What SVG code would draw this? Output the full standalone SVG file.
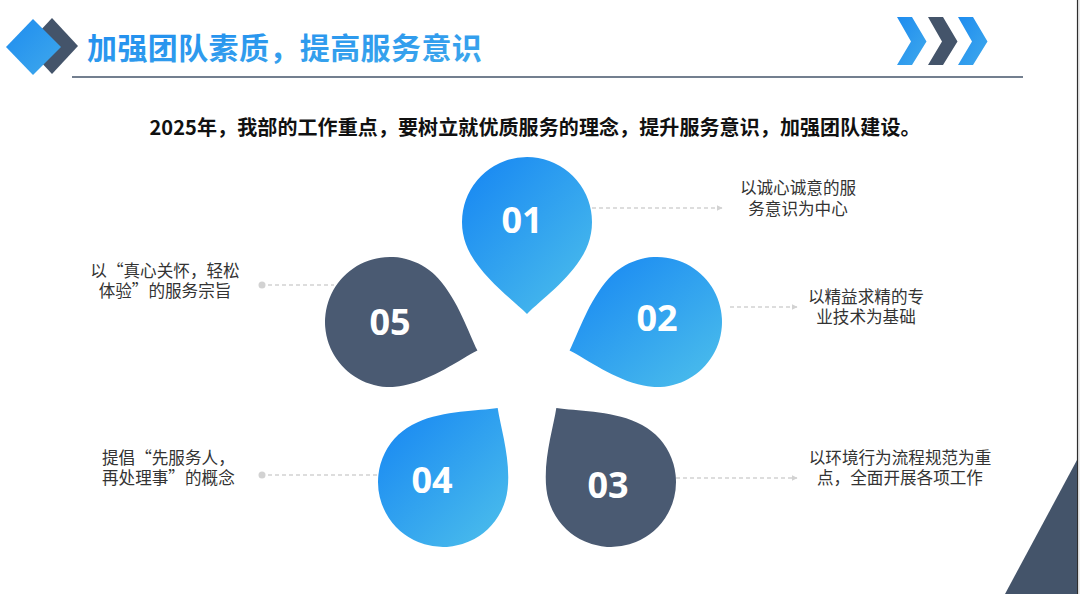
<svg xmlns="http://www.w3.org/2000/svg" width="1080" height="594" viewBox="0 0 1080 594">
<style>
.title{font-family:"Noto Sans CJK SC","Noto Sans",sans-serif;font-weight:700;font-size:30px;fill:url(#tg);letter-spacing:0.4px}
.sub{font-family:"Noto Sans CJK SC","Noto Sans",sans-serif;font-weight:700;font-size:20px;fill:#111;letter-spacing:0.1px}
.num{font-family:"Noto Sans","Open Sans",sans-serif;font-weight:700;font-size:36px;fill:#fff;text-anchor:middle}
.desc{font-family:"Noto Sans CJK SC","Noto Sans",sans-serif;font-size:16.6px;fill:#333}
.mid{text-anchor:middle}
.conn{stroke:#d2d2d2;stroke-width:1.5;stroke-dasharray:4 3;fill:none}
.dark{fill:#4a5a72}
.blue{fill:url(#bg)}
</style>
<defs>
<linearGradient id="tg" x1="0" y1="0" x2="1" y2="1">
<stop offset="0" stop-color="#1e8cef"/>
<stop offset="1" stop-color="#3fa9ec"/>
</linearGradient>
<linearGradient id="bg" x1="0.15" y1="0.1" x2="0.85" y2="0.85">
<stop offset="0" stop-color="#1c8cf2"/>
<stop offset="1" stop-color="#45b7ec"/>
</linearGradient>
<marker id="arr" viewBox="0 0 10 10" refX="9" refY="5" markerWidth="4" markerHeight="4" orient="auto">
<path d="M0,0 L10,5 L0,10 Z" fill="#d2d2d2"/>
</marker>
</defs>
<rect width="1080" height="594" fill="#fff"/>
<rect x="1078" y="0" width="2" height="594" fill="#ececec"/>
<line x1="1077.5" y1="0" x2="1077.5" y2="594" stroke="#2e2e2e" stroke-width="1.2"/>
<polygon points="1077,460 1077,594 1005,594" fill="#44546a"/>

<g id="header">
<polygon points="52,18 78,46 52,74 26,46" fill="#44546a"/>
<polygon points="33,19 61,47 33,75 6,47" fill="url(#tg)"/>
<text class="title" x="87" y="59">加强团队素质，提高服务意识</text>
<line x1="72" y1="77" x2="1023" y2="77" stroke="#44546a" stroke-width="1.5"/>
<polygon points="897,17 912,17 926.5,41.5 912,65 897,65 911,41.5" fill="url(#tg)"/>
<polygon points="928,17 943,17 957.5,41.5 943,65 928,65 942,41.5" fill="#44546a"/>
<polygon points="958,17 973,17 987.5,41.5 973,65 958,65 972,41.5" fill="url(#tg)"/>
</g>

<text class="sub mid" x="535" y="135">2025年，我部的工作重点，要树立就优质服务的理念，提升服务意识，加强团队建设。</text>

<g id="connectors">
<line class="conn" x1="592" y1="208" x2="722" y2="208" marker-end="url(#arr)"/>
<line class="conn" x1="730" y1="307" x2="797" y2="307" marker-end="url(#arr)"/>
<line class="conn" x1="676" y1="478" x2="797" y2="478" marker-end="url(#arr)"/>
<circle cx="262" cy="285" r="3.5" fill="#d2d2d2"/>
<line class="conn" x1="268" y1="285" x2="334" y2="285"/>
<circle cx="262" cy="475" r="3.5" fill="#d2d2d2"/>
<line class="conn" x1="268" y1="475" x2="378" y2="475"/>
</g>

<g id="node01">
<path class="blue" d="M583.29,254.5 C568.29,280.48 541.14,299.78 527,313.92 C512.86,299.78 485.71,280.48 470.71,254.5 A65,65 0 1 1 583.29,254.5 Z"/>
<text class="num" x="522" y="233">01</text>
<text class="desc mid" x="798" y="194">以诚心诚意的服<tspan x="798" dy="21">务意识为中心</tspan></text>
</g>
<g id="node02">
<path class="blue" d="M643.48,385.58 C614.14,379.34 587.4,359.49 569.58,350.41 C578.66,332.59 588.62,300.8 608.7,278.5 A65,65 0 1 1 643.48,385.58 Z"/>
<text class="num" x="657" y="331">02</text>
<text class="desc mid" x="866" y="303">以精益求精的专<tspan x="866" dy="20">业技术为基础</tspan></text>
</g>
<g id="node03">
<path class="dark" d="M546.42,489.35 C543.02,459.55 553.37,427.89 556.32,408.11 C576.11,411.07 609.4,410.43 636.92,422.39 A65,65 0 1 1 546.42,489.35 Z"/>
<text class="num" x="608" y="498">03</text>
<text class="desc mid" x="900" y="464">以环境行为流程规范为重<tspan x="900" dy="20">点，全面开展各项工作</tspan></text>
</g>
<g id="node04">
<path class="blue" d="M417.08,422.39 C444.6,410.43 477.89,411.07 497.68,408.11 C500.63,427.89 510.98,459.55 507.58,489.35 A65,65 0 1 1 417.08,422.39 Z"/>
<text class="num" x="432" y="493">04</text>
<text class="desc" x="102" y="464">提倡“先服务人，<tspan x="102" dy="20">再处理事”的概念</tspan></text>
</g>
<g id="node05">
<path class="dark" d="M438.3,278.5 C458.38,300.8 468.34,332.59 477.42,350.41 C459.6,359.49 432.86,379.34 403.52,385.58 A65,65 0 1 1 438.3,278.5 Z"/>
<text class="num" x="390" y="335">05</text>
<text class="desc mid" x="165" y="277">以“真心关怀，轻松<tspan x="165" dy="20">体验”的服务宗旨</tspan></text>
</g>
</svg>
